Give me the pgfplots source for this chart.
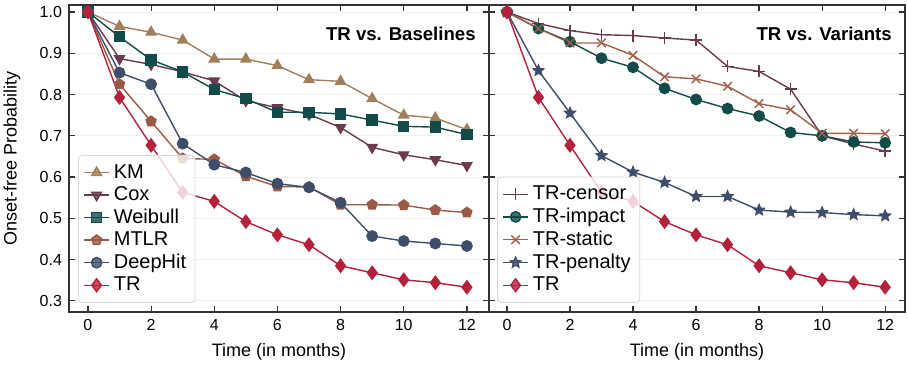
\documentclass[border=0pt]{standalone}
\usepackage{fontspec}
\setmainfont{Liberation Sans}
\usepackage{pgfplots}
\pgfplotsset{compat=1.18}
\definecolor{cKM}{HTML}{A0805A}
\definecolor{cCox}{HTML}{6B3A4F}
\definecolor{cWei}{HTML}{124B4A}
\definecolor{cMT}{HTML}{9A5A44}
\definecolor{cDH}{HTML}{3E4E6A}
\definecolor{cTR}{HTML}{B5213A}
\definecolor{cST}{HTML}{A0604A}
\pgfdeclareplotmark{fstar}{%
  \pgfpathmoveto{\pgfqpointpolar{90}{\pgfplotmarksize}}%
  \pgfpathlineto{\pgfqpointpolar{126}{0.45\pgfplotmarksize}}%
  \pgfpathlineto{\pgfqpointpolar{162}{\pgfplotmarksize}}%
  \pgfpathlineto{\pgfqpointpolar{198}{0.45\pgfplotmarksize}}%
  \pgfpathlineto{\pgfqpointpolar{234}{\pgfplotmarksize}}%
  \pgfpathlineto{\pgfqpointpolar{270}{0.45\pgfplotmarksize}}%
  \pgfpathlineto{\pgfqpointpolar{306}{\pgfplotmarksize}}%
  \pgfpathlineto{\pgfqpointpolar{342}{0.45\pgfplotmarksize}}%
  \pgfpathlineto{\pgfqpointpolar{18}{\pgfplotmarksize}}%
  \pgfpathlineto{\pgfqpointpolar{54}{0.45\pgfplotmarksize}}%
  \pgfpathclose
  \pgfusepathqfillstroke}
\pgfplotsset{
  base/.style={
    scale only axis, width=210pt, height=153.5pt,
    xmin=-0.6, xmax=12.7, ymin=0.273, ymax=1.017,
    xtick={0,2,...,12}, ytick={0.3,0.4,...,1.0},
    yticklabel style={/pgf/number format/.cd,fixed,fixed zerofill,precision=1},
    tick align=inside, tick pos=both, major tick length=3pt,
    ymajorgrids, grid style={gray!12, line width=0.4pt},
    axis line style={line width=0.8pt, black!80},
    tick style={black!80, line width=0.6pt},
    /pgf/number format/assume math mode=true,
    tick label style={font=\fontsize{8}{9}\selectfont},
    label style={font=\fontsize{9}{10}\selectfont},
    xlabel={Time (in months)},
    xlabel style={at={(rel axis cs:0.5,0)}, anchor=center, yshift=-20pt},
    every axis plot/.append style={line width=0.7pt, mark size=2.8pt},
    legend style={anchor=south west, font=\fontsize{10}{12}\selectfont,
      draw=gray!30, rounded corners=2pt, fill=white, fill opacity=0.8, text opacity=1,
      row sep=-1.3pt, inner sep=2.5pt},
    legend cell align=left,
    legend image code/.code={\draw[mark repeat=2,mark phase=2] plot coordinates {(0cm,0cm)(0.22cm,0cm)(0.44cm,0cm)};},
  }
}
\begin{document}
\begin{tikzpicture}
\path[use as bounding box] (-34.5pt,-28pt) rectangle (419.5pt,156pt);
\begin{axis}[base, ylabel={Onset-free Probability},
  ylabel style={at={(rel axis cs:-0.1357,0.5)}, anchor=center},
  legend style={at={(4.5pt,4.5pt)}}]
\addplot[cKM, mark=triangle*] coordinates {(0,1.0)(1,0.965)(2,0.951)(3,0.932)(4,0.886)(5,0.886)(6,0.870)(7,0.836)(8,0.832)(9,0.790)(10,0.750)(11,0.743)(12,0.715)};
\addlegendentry{KM}
\addplot[cCox, mark=triangle*, mark options={rotate=180}] coordinates {(0,1.0)(1,0.887)(2,0.873)(3,0.855)(4,0.833)(5,0.785)(6,0.768)(7,0.752)(8,0.720)(9,0.672)(10,0.654)(11,0.642)(12,0.628)};
\addlegendentry{Cox}
\addplot[cWei, mark=square*, mark size=2.5pt] coordinates {(0,1.0)(1,0.940)(2,0.884)(3,0.855)(4,0.812)(5,0.790)(6,0.757)(7,0.757)(8,0.753)(9,0.738)(10,0.723)(11,0.721)(12,0.703)};
\addlegendentry{Weibull}
\addplot[cMT, mark=pentagon*, mark size=2.6pt] coordinates {(0,1.0)(1,0.825)(2,0.735)(3,0.645)(4,0.643)(5,0.602)(6,0.577)(7,0.576)(8,0.533)(9,0.533)(10,0.532)(11,0.520)(12,0.514)};
\addlegendentry{MTLR}
\addplot[cDH, mark=*, mark size=2.6pt] coordinates {(0,1.0)(1,0.853)(2,0.825)(3,0.681)(4,0.630)(5,0.611)(6,0.584)(7,0.575)(8,0.538)(9,0.457)(10,0.445)(11,0.439)(12,0.433)};
\addlegendentry{DeepHit}
\addplot[cTR, mark=diamond*, mark size=3.2pt] coordinates {(0,1.0)(1,0.793)(2,0.677)(3,0.563)(4,0.541)(5,0.492)(6,0.460)(7,0.436)(8,0.385)(9,0.368)(10,0.351)(11,0.344)(12,0.333)};
\addlegendentry{TR}
\node[anchor=north east, font=\bfseries\fontsize{9.3}{11}\selectfont] at (rel axis cs:0.985,0.95) {TR vs. Baselines};
\end{axis}
\begin{axis}[base, at={(210pt,0)}, width=208pt, xmin=-0.57, xmax=12.63, yticklabels={},
  legend style={at={(4pt,4.5pt)}}]
\addplot[cCox, mark=+, mark size=3pt] coordinates {(0,1.0)(1,0.972)(2,0.955)(3,0.945)(4,0.943)(5,0.937)(6,0.932)(7,0.868)(8,0.856)(9,0.813)(10,0.700)(11,0.680)(12,0.663)};
\addlegendentry{TR-censor}
\addplot[cWei, mark=*, mark size=2.6pt] coordinates {(0,1.0)(1,0.960)(2,0.928)(3,0.888)(4,0.866)(5,0.815)(6,0.788)(7,0.766)(8,0.748)(9,0.708)(10,0.700)(11,0.685)(12,0.683)};
\addlegendentry{TR-impact}
\addplot[cST, mark=x, mark size=3pt] coordinates {(0,1.0)(1,0.960)(2,0.925)(3,0.925)(4,0.895)(5,0.843)(6,0.838)(7,0.820)(8,0.778)(9,0.763)(10,0.706)(11,0.706)(12,0.705)};
\addlegendentry{TR-static}
\addplot[cDH, mark=fstar, mark size=2.7pt] coordinates {(0,1.0)(1,0.858)(2,0.755)(3,0.652)(4,0.612)(5,0.587)(6,0.553)(7,0.553)(8,0.520)(9,0.515)(10,0.514)(11,0.509)(12,0.506)};
\addlegendentry{TR-penalty}
\addplot[cTR, mark=diamond*, mark size=3.2pt] coordinates {(0,1.0)(1,0.793)(2,0.677)(3,0.563)(4,0.541)(5,0.492)(6,0.460)(7,0.436)(8,0.385)(9,0.368)(10,0.351)(11,0.344)(12,0.333)};
\addlegendentry{TR}
\node[anchor=north east, font=\bfseries\fontsize{9.3}{11}\selectfont] at (rel axis cs:0.985,0.95) {TR vs. Variants};
\end{axis}
\end{tikzpicture}
\end{document}
